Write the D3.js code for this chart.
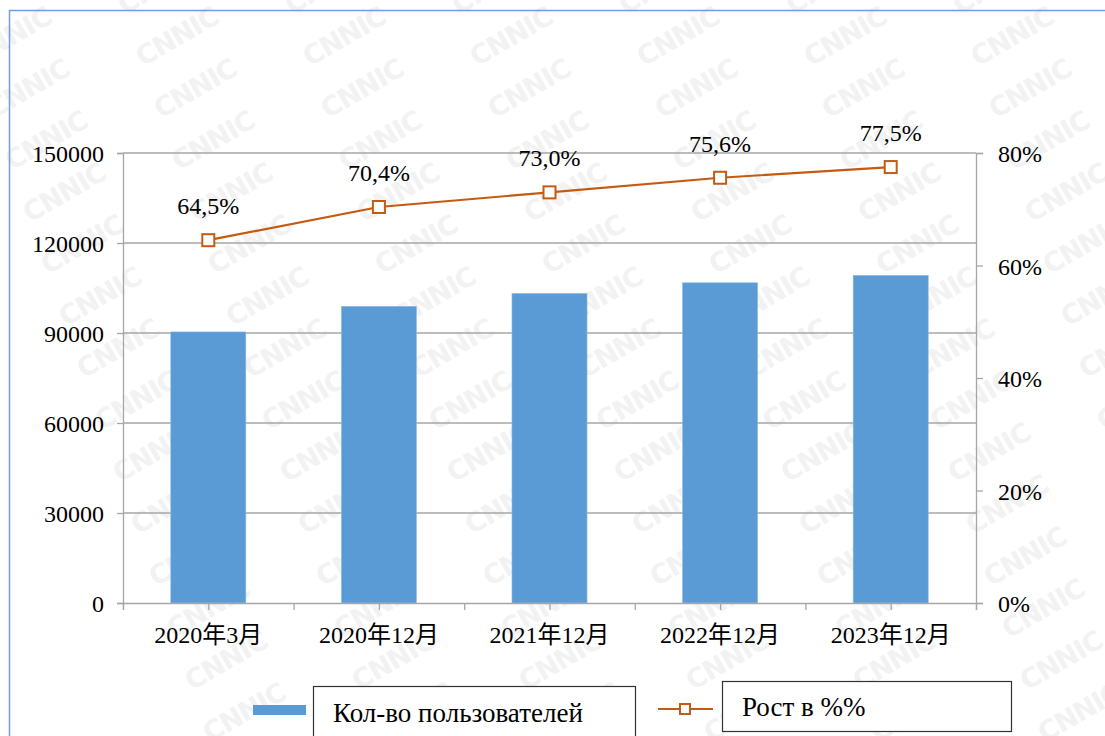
<!DOCTYPE html>
<html>
<head>
<meta charset="utf-8">
<script src="https://cdn.jsdelivr.net/npm/d3@7"></script>
<style>
  body { margin: 0; background: #fff; }
  svg { display: block; }
</style>
</head>
<body>
<div id="chart"></div>
<script>
// data
const periods = ["2020年3月", "2020年12月", "2021年12月", "2022年12月", "2023年12月"]
const users = [90359, 98899, 103195, 106744, 109220]
const growth = [0.645, 0.704, 0.730, 0.756, 0.775]
const growthLabels = ["64,5%", "70,4%", "73,0%", "75,6%", "77,5%"]
const leftTicks = [0, 30000, 60000, 90000, 120000, 150000]
const rightTicks = [0, 0.2, 0.4, 0.6, 0.8]
const legendNames = ["Кол-во пользователей", "Рост в %%"]

const W = 1105, H = 736
const plot = {left: 123, right: 976, top: 153, bottom: 603}
const barColor = "#5b9bd5", lineColor = "#c55a11", gridColor = "#a6a6a6"
const serif = "'Liberation Serif', 'Noto Sans CJK SC', serif"

const svg = d3.select("#chart")
	.append("svg")
	.attr("width", W)
	.attr("height", H)
	.style("font-family", serif)

// CNNIC watermark
const wm = svg.append("g").attr("class", "watermark")
for (let r = -1; r < 14; r++) {
	for (let c = -1; c < 7; c++) {
		const cx = 178 + c * 167 + r * 18
		const cy = 38 + r * 52
		wm.append("text")
			.attr("transform", `translate(${cx},${cy}) rotate(-30)`)
			.attr("text-anchor", "middle")
			.attr("dominant-baseline", "middle")
			.style("font-family", "'DejaVu Sans', sans-serif")
			.style("font-weight", "bold")
			.style("font-size", "27px")
			.style("fill", "#f2f2f2")
			.style("letter-spacing", "-1px")
			.text("CNNIC")
	}
}

// outer frame
svg.append("rect")
	.attr("x", 9.5).attr("y", 10.5)
	.attr("width", W + 20).attr("height", H + 20)
	.attr("fill", "none")
	.attr("stroke", "#6f9fdc")
	.attr("stroke-width", 1.5)

const x = d3.scaleBand()
	.domain(periods)
	.range([plot.left, plot.right])
	.paddingInner(0.56)
	.paddingOuter(0.28)

const y = d3.scaleLinear()
	.domain([0, 150000])
	.range([plot.bottom, plot.top])

const y2 = d3.scaleLinear()
	.domain([0, 0.8])
	.range([plot.bottom, plot.top])

// gridlines
svg.append("g")
	.selectAll("line")
	.data(leftTicks.filter(d => d > 0))
	.enter()
	.append("line")
	.attr("x1", plot.left)
	.attr("x2", plot.right)
	.attr("y1", d => y(d))
	.attr("y2", d => y(d))
	.attr("stroke", gridColor)
	.attr("stroke-width", 1.3)

// bars
svg.append("g")
	.selectAll("rect")
	.data(users)
	.enter()
	.append("rect")
	.attr("x", (d, i) => x(periods[i]))
	.attr("y", d => y(d))
	.attr("width", x.bandwidth())
	.attr("height", d => plot.bottom - y(d))
	.attr("fill", barColor)
	.attr("stroke", "#8fbce6")
	.attr("stroke-width", 0.6)

// left axis
const leftAxis = svg.append("g")
	.attr("transform", `translate(${plot.left},0)`)
	.call(d3.axisLeft(y).tickValues(leftTicks).tickSize(6).tickPadding(13).tickFormat(d3.format("d")))
leftAxis.attr("font-family", null).attr("font-size", null)
leftAxis.select(".domain").attr("stroke", gridColor).attr("stroke-width", 1.3)
leftAxis.selectAll(".tick line").attr("stroke", gridColor).attr("stroke-width", 1.3)
leftAxis.selectAll("text").style("font-size", "24px").attr("fill", "#000").attr("dy", "0.36em")

// right axis
const rightAxis = svg.append("g")
	.attr("transform", `translate(${plot.right},0)`)
	.call(d3.axisRight(y2).tickValues(rightTicks).tickSize(7).tickPadding(15).tickFormat(d3.format(".0%")))
rightAxis.attr("font-family", null).attr("font-size", null)
rightAxis.select(".domain").attr("stroke", gridColor).attr("stroke-width", 1.3)
rightAxis.selectAll(".tick line").attr("stroke", gridColor).attr("stroke-width", 1.3)
rightAxis.selectAll("text").style("font-size", "24px").attr("fill", "#000").attr("dy", "0.36em")

// bottom axis: ticks at every half category
const halfSteps = d3.range(0, periods.length * 2 + 1)
const xTick = d3.scaleLinear().domain([0, periods.length * 2]).range([plot.left, plot.right])
const bottomAxis = svg.append("g")
	.attr("transform", `translate(0,${plot.bottom})`)
	.call(d3.axisBottom(xTick).tickValues(halfSteps).tickSize(7).tickFormat(""))
bottomAxis.select(".domain").attr("stroke", gridColor).attr("stroke-width", 1.3)
bottomAxis.selectAll(".tick line").attr("stroke", gridColor).attr("stroke-width", 1.3)

svg.append("g")
	.selectAll("text")
	.data(periods)
	.enter()
	.append("text")
	.attr("x", d => x(d) + x.bandwidth() / 2)
	.attr("y", 643)
	.attr("text-anchor", "middle")
	.style("font-size", "24px")
	.text(d => d)

// growth line
const cx = i => x(periods[i]) + x.bandwidth() / 2
const line = d3.line()
	.x((d, i) => cx(i))
	.y(d => y2(d))

svg.append("path")
	.datum(growth)
	.attr("d", line)
	.attr("fill", "none")
	.attr("stroke", lineColor)
	.attr("stroke-width", 2.2)

svg.append("g")
	.selectAll("rect")
	.data(growth)
	.enter()
	.append("rect")
	.attr("x", (d, i) => cx(i) - 6)
	.attr("y", d => y2(d) - 6)
	.attr("width", 12)
	.attr("height", 12)
	.attr("fill", "#fff")
	.attr("stroke", lineColor)
	.attr("stroke-width", 2)

svg.append("g")
	.selectAll("text")
	.data(growth)
	.enter()
	.append("text")
	.attr("x", (d, i) => cx(i))
	.attr("y", d => y2(d) - 26)
	.attr("text-anchor", "middle")
	.style("font-size", "24px")
	.text((d, i) => growthLabels[i])

// legend
const legend = svg.append("g")

legend.append("rect")
	.attr("x", 253).attr("y", 705)
	.attr("width", 53).attr("height", 10)
	.attr("fill", barColor)

legend.append("rect")
	.attr("x", 313.5).attr("y", 686.5)
	.attr("width", 322).attr("height", 60)
	.attr("fill", "#fff")
	.attr("stroke", "#333")
	.attr("stroke-width", 1.2)

legend.append("text")
	.attr("x", 333).attr("y", 722)
	.style("font-size", "27px")
	.text(legendNames[0])

legend.append("line")
	.attr("x1", 658).attr("x2", 713)
	.attr("y1", 709).attr("y2", 709)
	.attr("stroke", lineColor)
	.attr("stroke-width", 2.2)

legend.append("rect")
	.attr("x", 680).attr("y", 704)
	.attr("width", 10).attr("height", 10)
	.attr("fill", "#fff")
	.attr("stroke", lineColor)
	.attr("stroke-width", 2)

legend.append("rect")
	.attr("x", 722.5).attr("y", 681.5)
	.attr("width", 289).attr("height", 50)
	.attr("fill", "#fff")
	.attr("stroke", "#333")
	.attr("stroke-width", 1.2)

legend.append("text")
	.attr("x", 742).attr("y", 716)
	.style("font-size", "27px")
	.text(legendNames[1])
</script>
</body>
</html>
